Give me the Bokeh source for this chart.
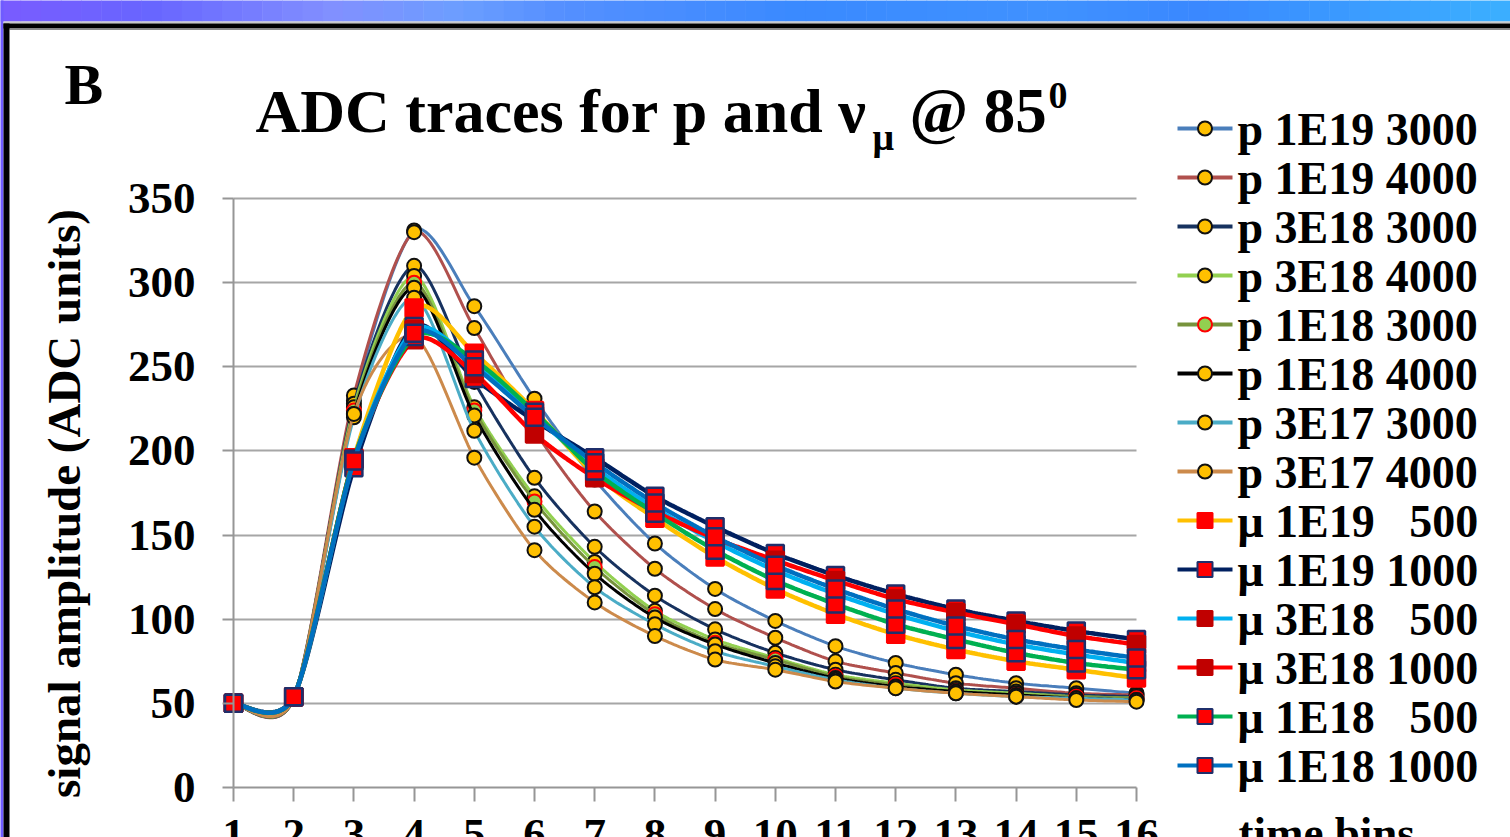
import numpy as np
from bokeh.plotting import figure
from bokeh.models import (Range1d, FixedTicker, Label, LinearAxis, Grid)
from bokeh.core.properties import value
from bokeh.embed import file_html
from bokeh.resources import INLINE

# ---------------- data ----------------
time_bins = list(range(1, 17))
x_tick_labels = [str(i) for i in time_bins]
y_ticks = [0, 50, 100, 150, 200, 250, 300, 350]

series_labels = [
    "p 1E19 3000", "p 1E19 4000", "p 3E18 3000", "p 3E18 4000",
    "p 1E18 3000", "p 1E18 4000", "p 3E17 3000", "p 3E17 4000",
    "\u03bc 1E19 \u2007500", "\u03bc 1E19 1000", "\u03bc 3E18 \u2007500",
    "\u03bc 3E18 1000", "\u03bc 1E18 \u2007500", "\u03bc 1E18 1000",
]

p_1e19_3000 = [50, 53, 230, 331, 286, 231, 183, 145, 118, 99, 84, 74, 67, 62, 59, 56]
p_1e19_4000 = [50, 53, 233, 330, 273, 212, 164, 130, 106, 89, 75, 68, 62, 59, 56, 55]
p_3e18_3000 = [50, 53, 228, 310, 241, 184, 143, 114, 94, 80, 70, 64, 59, 57, 55, 54]
p_3e18_4000 = [50, 53, 226, 304, 226, 173, 134, 105, 88, 77, 67, 62, 58, 56, 54, 53]
p_1e18_3000 = [50, 53, 224, 300, 224, 170, 131, 103, 86, 76, 66, 61, 57, 55, 54, 53]
p_1e18_4000 = [50, 53, 222, 297, 221, 165, 127, 101, 85, 74, 65, 60, 57, 55, 53, 52]
p_3e17_3000 = [50, 53, 220, 291, 212, 155, 119, 97, 81, 72, 64, 59, 56, 54, 53, 52]
p_3e17_4000 = [50, 53, 222, 268, 196, 141, 110, 90, 76, 70, 63, 59, 56, 54, 52, 51]
mu_1e19_500 = [50, 54, 196, 285, 258, 224, 186, 160, 137, 118, 103, 91, 82, 75, 70, 65]
mu_1e19_1000 = [50, 54, 190, 274, 243, 218, 196, 173, 155, 139, 126, 115, 106, 99, 93, 88]
mu_3e18_500 = [50, 54, 195, 272, 252, 221, 190, 166, 146, 129, 115, 103, 93, 85, 79, 74]
mu_3e18_1000 = [50, 54, 195, 266, 246, 210, 184, 164, 148, 135, 123, 112, 104, 97, 90, 85]
mu_1e18_500 = [50, 54, 195, 268, 254, 223, 188, 163, 141, 123, 109, 97, 88, 80, 74, 70]
mu_1e18_1000 = [50, 54, 194, 270, 250, 220, 193, 169, 149, 132, 118, 106, 96, 88, 82, 77]

series_values = [p_1e19_3000, p_1e19_4000, p_3e18_3000, p_3e18_4000,
                 p_1e18_3000, p_1e18_4000, p_3e17_3000, p_3e17_4000,
                 mu_1e19_500, mu_1e19_1000, mu_3e18_500, mu_3e18_1000,
                 mu_1e18_500, mu_1e18_1000]

# ---------------- styles ----------------
line_colors = ["#4A7EBB", "#B0504D", "#17325F", "#92D050", "#77933C", "#000000",
               "#4BACC6", "#CC8A4B", "#FFC000", "#002060", "#00B0F0", "#FF0000",
               "#00B050", "#0070C0"]
marker_types = ["circle"] * 8 + ["square"] * 6
marker_fill = ["#FFC000"] * 4 + ["#92D050"] + ["#FFC000"] * 3 + \
              ["#FF0000", "#FF0000", "#C00000", "#C00000", "#FF0000", "#FF0000"]
marker_line = ["#111111"] * 4 + ["#FF0000"] + ["#111111"] * 3 + \
              ["#FF0000", "#1F2F6B", "#C00000", "#C00000", "#1F2F6B", "#1F2F6B"]
marker_size = [14] * 8 + [17] * 6
line_widths = [3] * 8 + [4.5] * 6

FONT = "Liberation Serif"

# ---------------- layout (window px -> data) ----------------
OFF = 0
W, H = 1510, 837
SX = (1136 - 233) / 15.0
SY = (787 - 198) / 350.0
TENSION = 1.0 / 7.5
BASE_SHIFT = 0.36  # label baseline correction, in em
LEG_TOP, LEG_PITCH = 128, 49
LEG_X0, LEG_X1, LEG_TX = 1177, 1232, 1237


def dx(px):
    return 1 + (px - 233) / SX


def dy(py):
    return (787 - py) / SY


def smooth(xs, ys, n=24):
    pts = list(zip(xs, ys))
    N = len(pts)
    ox, oy = [], []
    for i in range(N - 1):
        p0 = pts[i - 1] if i > 0 else pts[i]
        p1 = pts[i]
        p2 = pts[i + 1]
        p3 = pts[i + 2] if i + 2 < N else pts[i + 1]
        c1 = (p1[0] + (p2[0] - p0[0]) * TENSION, p1[1] + (p2[1] - p0[1]) * TENSION)
        c2 = (p2[0] - (p3[0] - p1[0]) * TENSION, p2[1] - (p3[1] - p1[1]) * TENSION)
        ts = np.linspace(0, 1, n, endpoint=(i == N - 2))
        for t in ts:
            a = (1 - t) ** 3
            b = 3 * (1 - t) ** 2 * t
            c = 3 * (1 - t) * t ** 2
            d = t ** 3
            ox.append(a * p1[0] + b * c1[0] + c * c2[0] + d * p2[0])
            oy.append(a * p1[1] + b * c1[1] + c * c2[1] + d * p2[1])
    return ox, oy


p = figure(width=W, height=H,
           x_range=Range1d(dx(OFF), dx(OFF + W)),
           y_range=Range1d(dy(OFF + H), dy(OFF)),
           x_axis_type=None, y_axis_type=None,
           toolbar_location=None, output_backend="svg",
           min_border=0, outline_line_color=None,
           background_fill_color="white", border_fill_color="white",
           margin=0)

# ---------------- slide decorations ----------------
stops_px = [0, 150, 330, 460, 560, 800, 1050, 1200, 1510]
stops_rgb = [(0x7A, 0x5C, 0xFF), (0x68, 0x66, 0xFF), (0x82, 0x90, 0xFF), (0x6C, 0x9E, 0xFF),
             (0x55, 0x90, 0xFF), (0x3A, 0x8A, 0xFF), (0x40, 0x92, 0xFF), (0x3A, 0x88, 0xFF),
             (0x3C, 0xB0, 0xFF)]
edges = np.linspace(0, 1510, 76)
g_left, g_right, g_cols = [], [], []
for a, b in zip(edges[:-1], edges[1:]):
    m = (a + b) / 2
    rgb = [int(np.interp(m, stops_px, [s[k] for s in stops_rgb])) for k in range(3)]
    g_left.append(dx(a))
    g_right.append(dx(b + 0.5))
    g_cols.append("#%02x%02x%02x" % tuple(rgb))
p.quad(left=g_left, right=g_right, top=dy(-2), bottom=dy(21), fill_color=g_cols, line_color=None)
p.quad(left=dx(-2), right=dx(3), top=dy(-2), bottom=dy(840), fill_color="#6F5CFF", line_color=None)
p.quad(left=dx(3), right=dx(1512), top=dy(21), bottom=dy(23), fill_color="#C8C8C8", line_color=None)
p.quad(left=dx(3), right=dx(1512), top=dy(23), bottom=dy(28), fill_color="#000000", line_color=None)
p.quad(left=dx(9), right=dx(1512), top=dy(28), bottom=dy(29.5), fill_color="#8A8A8A", line_color=None)
p.quad(left=dx(3), right=dx(9), top=dy(23), bottom=dy(840), fill_color="#000000", line_color=None)

# ---------------- grid and axes ----------------
grid = Grid(dimension=1, ticker=FixedTicker(ticks=y_ticks[1:]),
            grid_line_color="#A6A6A6", grid_line_width=2)
if "cross_bounds" in Grid.properties():
    grid.cross_bounds = (1, 16)
p.add_layout(grid)

xaxis = LinearAxis(ticker=FixedTicker(ticks=time_bins), fixed_location=0, bounds=(1, 16),
                   major_label_overrides={t: s for t, s in zip(time_bins, x_tick_labels)},
                   axis_line_color="#969696", axis_line_width=2,
                   major_tick_line_color="#969696", major_tick_line_width=2,
                   major_tick_out=14, major_tick_in=0, minor_tick_out=0, minor_tick_in=0,
                   major_label_standoff=18,
                   major_label_text_font=FONT, major_label_text_font_style="bold",
                   major_label_text_font_size="45px", major_label_text_color="black")
p.add_layout(xaxis, "below")

yaxis = LinearAxis(ticker=FixedTicker(ticks=y_ticks), fixed_location=1, bounds=(0, 350),
                   axis_line_color="#969696", axis_line_width=2,
                   major_tick_line_color="#969696", major_tick_line_width=2,
                   major_tick_out=11, major_tick_in=0, minor_tick_out=0, minor_tick_in=0,
                   major_label_standoff=27,
                   major_label_text_font=FONT, major_label_text_font_style="bold",
                   major_label_text_font_size="45px", major_label_text_color="black")
p.add_layout(yaxis, "left")

# ---------------- series ----------------
for i, vals in enumerate(series_values):
    sx_, sy_ = smooth(time_bins, vals)
    p.line(sx_, sy_, line_color=line_colors[i], line_width=line_widths[i])
    p.scatter(time_bins, vals, marker=marker_types[i], size=marker_size[i],
              fill_color=marker_fill[i], line_color=marker_line[i],
              line_width=2 if i < 8 else 2.5)

# ---------------- legend (keys + labels) ----------------
leg_rows = [LEG_TOP + LEG_PITCH * k for k in range(len(series_labels))]
for i, ry in enumerate(leg_rows):
    p.segment(x0=[dx(LEG_X0)], x1=[dx(LEG_X1)], y0=[dy(ry)], y1=[dy(ry)],
              line_color=line_colors[i], line_width=4)
    p.scatter([dx((LEG_X0 + LEG_X1) / 2)], [dy(ry)], marker=marker_types[i],
              size=14 if i < 8 else 15, fill_color=marker_fill[i],
              line_color=marker_line[i], line_width=2)
p.text(x=[dx(LEG_TX)] * len(series_labels), y=[dy(ry + 1) for ry in leg_rows],
       text=series_labels, text_font=value(FONT), text_font_style="bold",
       text_font_size="46px", text_align="left", text_baseline="middle",
       text_color="black")


# ---------------- texts ----------------
def lab(text, px, py, size, align="left", baseline="alphabetic", angle=0, shift=True):
    yy = py - (BASE_SHIFT * size if shift else 0)
    p.add_layout(Label(x=dx(px), y=dy(yy), text=text, text_font=FONT,
                       text_font_style="bold", text_font_size="%dpx" % size,
                       text_align=align, text_baseline=baseline, angle=angle,
                       text_color="black"))


lab("B", 64, 105, 58)
lab("ADC traces for p and \u03bd", 255, 133, 62)
lab("\u03bc", 872, 150, 38)
lab("@ 85", 909, 133, 63)
lab("0", 1048, 109, 38)
lab("signal amplitude (ADC units)", 63, 503, 47, align="center", baseline="middle",
    angle=np.pi / 2, shift=False)
lab("time bins", 1238, 849, 45)

open("out.html", "w").write(file_html(p, INLINE))
